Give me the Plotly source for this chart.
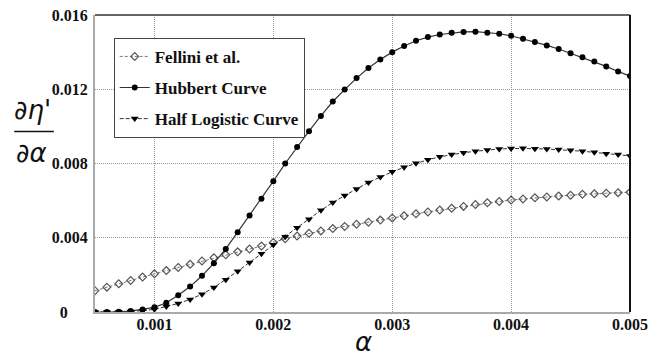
import plotly.graph_objects as go

alpha = [round(0.0005 + 0.0001 * i, 4) for i in range(46)]

fellini = [0.00115, 0.00134, 0.00152, 0.0017, 0.00188, 0.00206, 0.00223, 0.0024, 0.00257, 0.00275,
           0.00292, 0.00308, 0.00324, 0.00339, 0.00355, 0.00375, 0.00395, 0.00409, 0.00424, 0.00437,
           0.0045, 0.00461, 0.00473, 0.00484, 0.00495, 0.00507, 0.00518, 0.00529, 0.00539, 0.00549,
           0.00559, 0.00569, 0.00579, 0.00588, 0.00595, 0.00603, 0.00609, 0.00615, 0.0062, 0.00625,
           0.00629, 0.00634, 0.00637, 0.0064, 0.00643, 0.00645]

hubbert = [0.0, 0.0, 0.00001, 0.00005, 0.00013, 0.00025, 0.0005, 0.0009, 0.00137, 0.00195,
           0.00263, 0.0034, 0.0043, 0.0052, 0.0061, 0.00705, 0.008, 0.00889, 0.00974, 0.01056,
           0.01134, 0.01198, 0.0126, 0.01314, 0.0136, 0.014, 0.01433, 0.01461, 0.01481, 0.01495,
           0.01504, 0.01509, 0.0151, 0.01505, 0.01499, 0.01488, 0.01472, 0.01454, 0.01436, 0.01417,
           0.01394, 0.01372, 0.01349, 0.01323, 0.01296, 0.01271]

half_logistic = [0.0, 0.0, 0.00001, 0.00003, 0.00007, 0.00014, 0.0003, 0.00046, 0.00068, 0.00096,
                 0.00132, 0.00174, 0.0022, 0.00267, 0.00314, 0.00362, 0.00406, 0.00454, 0.005, 0.00548,
                 0.0059, 0.00628, 0.00663, 0.00698, 0.00727, 0.00755, 0.0078, 0.00801, 0.0082, 0.00836,
                 0.00848, 0.00858, 0.00866, 0.00873, 0.00878, 0.00881, 0.00882, 0.0088, 0.00878, 0.00875,
                 0.00871, 0.00866, 0.0086, 0.00853, 0.00848, 0.00841]

x_ticks = [0.001, 0.002, 0.003, 0.004, 0.005]
x_tick_labels = ["0.001", "0.002", "0.003", "0.004", "0.005"]
y_ticks = [0, 0.004, 0.008, 0.012, 0.016]
y_tick_labels = ["0\u00a0\u00a0\u00a0\u00a0\u00a0", "0.004", "0.008", "0.012", "0.016"]

serif = "Liberation Serif"
tickfont = dict(family=serif, size=16, color="#111111", weight="bold")

fig = go.Figure()
fig.add_trace(go.Scatter(
    x=alpha, y=fellini, name="Fellini et al.", mode="lines+markers", legendgroup="a",
    line=dict(color="#777777", width=1, dash="3px,2px"),
    marker=dict(symbol="diamond-open", size=6, color="#555555", line=dict(width=1.2, color="#555555")),
))
fig.add_trace(go.Scatter(
    x=alpha, y=hubbert, name="Hubbert Curve", mode="lines+markers", legendgroup="b",
    line=dict(color="#333333", width=1.2),
    marker=dict(symbol="circle", size=6, color="#000000"),
))
fig.add_trace(go.Scatter(
    x=alpha, y=half_logistic, name="Half Logistic Curve", mode="lines+markers", legendgroup="c",
    line=dict(color="#333333", width=1, dash="4px,2px"),
    marker=dict(symbol="triangle-down", size=7, color="#000000"),
))

fig.update_layout(
    template="none",
    width=650, height=352,
    margin=dict(l=87, r=28, t=7, b=48, autoexpand=False),
    paper_bgcolor="white", plot_bgcolor="white",
    font=dict(family=serif, size=15, color="#111111"),
    showlegend=True,
    legend=dict(
        x=0.035, y=0.923, xanchor="left", yanchor="top",
        bgcolor="white", bordercolor="#444444", borderwidth=1,
        font=dict(family=serif, size=17, color="#111111", weight="bold"),
        itemwidth=30, tracegroupgap=6,
    ),
    xaxis=dict(
        range=[0.0005, 0.005], tickvals=x_ticks, ticktext=x_tick_labels,
        showgrid=True, gridcolor="#999999", griddash="1px,1px", gridwidth=1,
        showline=True, linecolor="#aaaaaa", linewidth=2, zeroline=False,
        ticks="", automargin=False, tickfont=tickfont, ticklabelstandoff=-3,
        ticklabeloverflow="allow",
    ),
    yaxis=dict(
        range=[0, 0.016], tickvals=y_ticks, ticktext=y_tick_labels,
        showgrid=True, gridcolor="#999999", griddash="1px,1px", gridwidth=1,
        showline=True, linecolor="#aaaaaa", linewidth=2, zeroline=False,
        ticks="", ticklabelstandoff=2, automargin=False, tickfont=tickfont,
        ticklabeloverflow="allow",
    ),
)

# top and right frame lines
fig.add_shape(type="line", xref="x domain", yref="y domain", x0=0, x1=1, y0=1, y1=1,
              line=dict(color="#333333", width=1.5))
fig.add_shape(type="line", xref="x domain", yref="y domain", x0=1, x1=1, y0=0, y1=1,
              line=dict(color="#111111", width=2))

# y axis label as a fraction
fig.add_annotation(text="<i>∂η'</i>", xref="paper", yref="paper", x=-0.116, y=0.68,
                   xanchor="center", yanchor="middle", showarrow=False,
                   font=dict(family="DejaVu Sans", size=26, color="#111111"))
fig.add_shape(type="line", xref="paper", yref="paper", x0=-0.151, x1=-0.077,
              y0=0.608, y1=0.608, line=dict(color="#111111", width=1.5))
fig.add_annotation(text="<i>∂α</i>", xref="paper", yref="paper", x=-0.118, y=0.535,
                   xanchor="center", yanchor="middle", showarrow=False,
                   font=dict(family="DejaVu Sans", size=26, color="#111111"))

# x axis label
fig.add_annotation(text="<i>α</i>", xref="paper", yref="paper", x=0.501, y=-0.1,
                   xanchor="center", yanchor="middle", showarrow=False,
                   font=dict(family="DejaVu Sans", size=26, color="#111111"))

fig.write_html("out.html")
